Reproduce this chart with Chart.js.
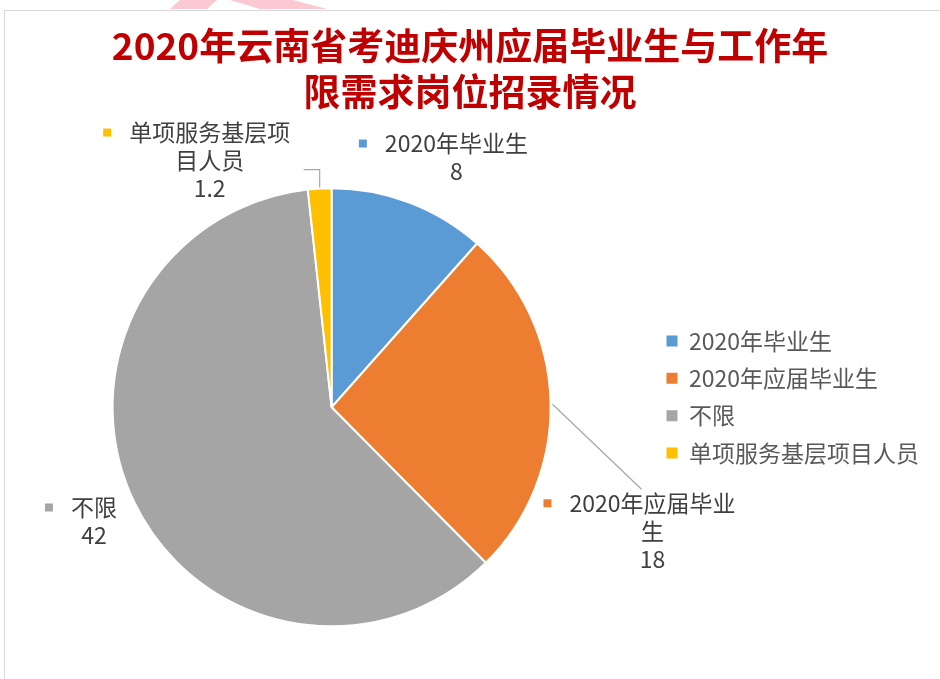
<!DOCTYPE html>
<html>
<head>
<meta charset="utf-8">
<script src="https://cdn.jsdelivr.net/npm/chart.js@4.4.1/dist/chart.umd.min.js"></script>
<style>
html, body { margin: 0; padding: 0; background: #fff; }
#wrap { position: relative; width: 940px; height: 679px; overflow: hidden; }
#frame { position: absolute; left: 4px; top: 10px; width: 1000px; height: 1000px; border: 1px solid #d9d9d9; }
.mark { position: absolute; left: 0; top: 0; width: 400px; height: 9px; background: #fbc9d1; }
#mark1 { clip-path: polygon(180px 0, 217px 0, 207px 9px, 170px 9px); }
#mark2 { clip-path: polygon(230px 0, 293px 0, 327px 9px, 260px 9px); }
canvas { position: absolute; left: 0; top: 0; }
</style>
</head>
<body>
<div id="wrap">
  <div class="mark" id="mark1"></div>
  <div class="mark" id="mark2"></div>
  <div id="frame"></div>
  <canvas id="myChart" width="940" height="679"></canvas>
</div>
<script>
const categories = ['2020年毕业生', '2020年应届毕业生', '不限', '单项服务基层项目人员'];
const counts = [8, 18, 42, 1.2];
const sliceColors = ['#5B9BD5', '#ED7D31', '#A5A5A5', '#FFC000'];
const titleLines = ['2020年云南省考迪庆州应届毕业生与工作年', '限需求岗位招录情况'];

const fontFamily = '"Noto Sans CJK SC", "Noto Sans", sans-serif';

// break a label into lines that fit maxWidth (char by char, CJK style)
const wrapText = (ctx, text, maxWidth) => {
    const lines = [];
    let cur = '';
    for (const ch of text) {
        if (cur && ctx.measureText(cur + ch).width > maxWidth) {
            lines.push(cur);
            cur = ch;
        } else {
            cur += ch;
        }
    }
    if (cur) lines.push(cur);
    return lines;
};

// data labels with leader lines, placed relative to each slice's outer edge
const sliceLabels = {
    id: 'sliceLabels',
    afterDatasetsDraw(chart, args, opts) {
        const ctx = chart.ctx;
        const meta = chart.getDatasetMeta(0);
        const ds = chart.data.datasets[0];
        ctx.save();
        ctx.font = opts.font;
        ctx.textAlign = 'center';
        ctx.textBaseline = 'middle';
        meta.data.forEach((arc, i) => {
            const p = arc.getProps(['x', 'y', 'startAngle', 'endAngle', 'outerRadius'], true);
            const mid = (p.startAngle + p.endAngle) / 2;
            const ex = p.x + Math.cos(mid) * p.outerRadius;
            const ey = p.y + Math.sin(mid) * p.outerRadius;
            const place = opts.place[i];

            if (place.leader) {
                ctx.strokeStyle = opts.lineColor;
                ctx.lineWidth = 1.2;
                ctx.beginPath();
                place.leader.forEach((pt, k) => {
                    if (k === 0) ctx.moveTo(ex + pt[0], ey + pt[1]);
                    else ctx.lineTo(ex + pt[0], ey + pt[1]);
                });
                ctx.stroke();
            }

            const cx = ex + place.dx;
            const cy = ey + place.dy;
            const lines = wrapText(ctx, chart.data.labels[i], opts.maxWidth);
            lines.push(String(ds.data[i]));
            lines.forEach((line, k) => {
                const y = cy + k * opts.lineHeight;
                ctx.fillStyle = opts.color;
                ctx.fillText(line, cx, y);
                if (k === 0) {
                    const w = ctx.measureText(line).width;
                    ctx.fillStyle = ds.backgroundColor[i];
                    ctx.fillRect(cx - w / 2 - opts.markerGap - opts.markerSize, y - opts.markerSize / 2, opts.markerSize, opts.markerSize);
                }
            });
        });
        ctx.restore();
    }
};

const ctx = document.getElementById('myChart').getContext('2d');
new Chart(ctx, {
    type: 'pie',
    data: {
        labels: categories,
        datasets: [{
            data: counts,
            backgroundColor: sliceColors,
            borderColor: '#ffffff',
            borderWidth: 2,
            hoverOffset: 0,
            radius: 219
        }]
    },
    options: {
        responsive: false,
        animation: false,
        layout: { padding: { left: 11, right: 11, top: 23, bottom: 0 } },
        plugins: {
            title: {
                display: true,
                text: titleLines,
                color: '#C00000',
                font: { family: fontFamily, size: 37, weight: 'bold', lineHeight: 1.25 },
                padding: { top: 0, bottom: 20 }
            },
            legend: {
                position: 'right',
                align: 'center',
                // empty legend title only used as a spacer above the items
                title: { display: true, text: '', padding: 0, font: { size: 92, lineHeight: 1 } },
                labels: {
                    boxWidth: 11,
                    boxHeight: 11,
                    padding: 14.3,
                    color: '#595959',
                    font: { family: fontFamily, size: 23 },
                    generateLabels(chart) {
                        const items = Chart.overrides.pie.plugins.legend.labels.generateLabels(chart);
                        items.forEach(it => { it.lineWidth = 0; it.strokeStyle = it.fillStyle; });
                        return items;
                    }
                }
            },
            tooltip: { enabled: false },
            sliceLabels: {
                font: '23px ' + fontFamily,
                color: '#404040',
                lineColor: '#A6A6A6',
                lineHeight: 28,
                maxWidth: 168,
                markerSize: 8,
                markerGap: 18,
                place: [
                    { dx: 47, dy: -59 },
                    { dx: 102, dy: 102, leader: [[2, 3], [91, 88]] },
                    { dx: -40, dy: 6 },
                    { dx: -110, dy: -56, leader: [[0, -1], [0, -19], [-16, -19]] }
                ]
            }
        }
    },
    plugins: [sliceLabels]
});
</script>
</body>
</html>
